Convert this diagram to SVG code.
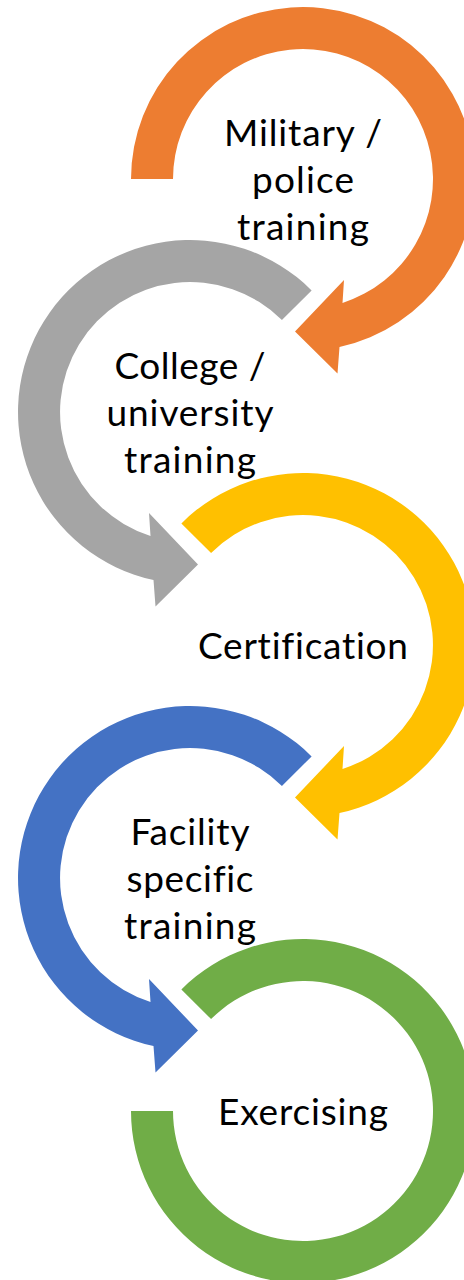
<svg xmlns="http://www.w3.org/2000/svg" xmlns:xlink="http://www.w3.org/1999/xlink" width="464" height="1280" viewBox="0 0 464 1280">
  <style>
    .label { font-family: Lato, "Open Sans", "Liberation Sans", sans-serif; font-size: 37px; fill: #000000; text-anchor: middle; font-variant-ligatures: none; font-feature-settings: "liga" 0; }
    .orange { fill: #ED7D31; }
    .gray { fill: #A5A5A5; }
    .yellow { fill: #FFC000; }
    .blue { fill: #4472C4; }
    .green { fill: #70AD47; }
  </style>
  <defs>
    <!-- ring band (outer r=172, inner r=130) starting at the 225 deg gap, running clockwise into an arrowhead -->
    <path id="ring-arrow" d="M -121.62 -121.62 A 172 172 0 1 1 36.5 168.1 L 34.5 194.5 L -8 152.5 L 41 101 L 39.5 123.9 A 130 130 0 1 0 -91.92 -91.92 Z"/>
    <!-- same band, but starting flat at the left (180 deg) -->
    <path id="ring-arrow-left" d="M -172 0 A 172 172 0 1 1 36.5 168.1 L 34.5 194.5 L -8 152.5 L 41 101 L 39.5 123.9 A 130 130 0 1 0 -130 0 Z"/>
    <!-- closing band without arrowhead -->
    <path id="ring-end" d="M -121.62 -121.62 A 172 172 0 1 1 -172 0 L -130 0 A 130 130 0 1 0 -91.92 -91.92 Z"/>
  </defs>

  <g id="node-military">
    <use xlink:href="#ring-arrow-left" class="orange" transform="translate(303,179)"/>
    <text class="label" x="303" y="146" textLength="158">Military /</text>
    <text class="label" x="303" y="193" textLength="102">police</text>
    <text class="label" x="303" y="240" textLength="132">training</text>
  </g>

  <g id="node-college">
    <use xlink:href="#ring-arrow" class="gray" transform="translate(190,412) scale(-1,1)"/>
    <text class="label" x="190" y="379" textLength="151">College /</text>
    <text class="label" x="190" y="426" textLength="167">university</text>
    <text class="label" x="190" y="473" textLength="132">training</text>
  </g>

  <g id="node-certification">
    <use xlink:href="#ring-arrow" class="yellow" transform="translate(303,645)"/>
    <text class="label" x="303" y="659" textLength="210">Certification</text>
  </g>

  <g id="node-facility">
    <use xlink:href="#ring-arrow" class="blue" transform="translate(190,878) scale(-1,1)"/>
    <text class="label" x="190" y="845" textLength="119">Facility</text>
    <text class="label" x="190" y="892" textLength="127">specific</text>
    <text class="label" x="190" y="939" textLength="132">training</text>
  </g>

  <g id="node-exercising">
    <use xlink:href="#ring-end" class="green" transform="translate(303,1111)"/>
    <text class="label" x="303" y="1125" textLength="170">Exercising</text>
  </g>
</svg>
